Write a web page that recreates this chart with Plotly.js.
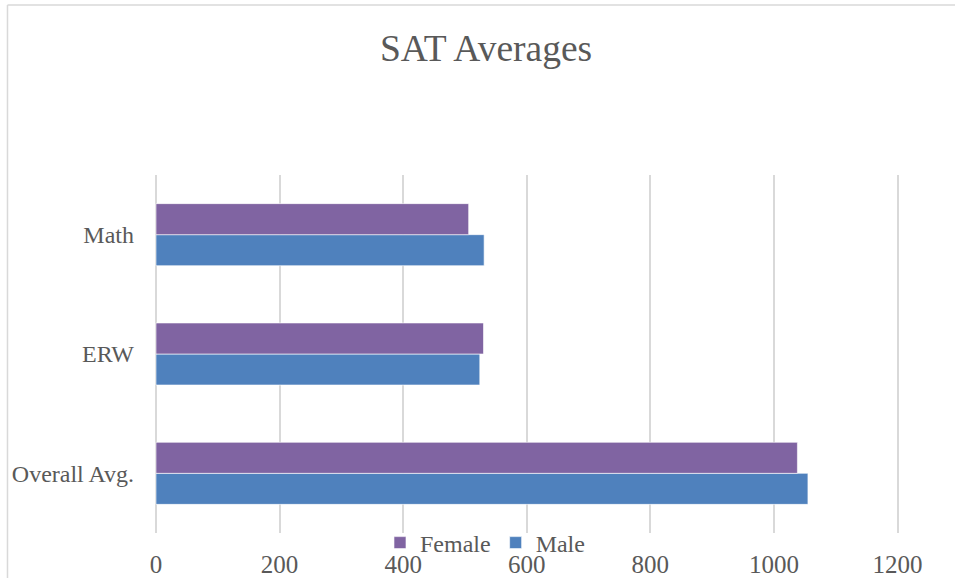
<!DOCTYPE html>
<html>
<head>
<meta charset="utf-8">
<script src="https://cdn.plot.ly/plotly-3.0.1.min.js"></script>
<style>html,body{margin:0;padding:0;background:#fff;}#chart{width:955px;height:578px;}</style>
</head>
<body>
<div id="chart"></div>
<script>
const categories = ['Overall Avg.', 'ERW', 'Math'];
const femaleValues = [1038, 530, 506];
const maleValues = [1055, 524, 531];
const xTicks = [0, 200, 400, 600, 800, 1000, 1200];

const fontFam = '"Liberation Serif", "DejaVu Serif", serif';
const textColor = '#595959';

const traces = [
  {
    type: 'bar', orientation: 'h', name: 'Male',
    y: categories, x: maleValues,
    marker: {color: '#4f81bd', line: {color: 'rgba(255,255,255,0.6)', width: 1}},
    hoverinfo: 'x+name'
  },
  {
    type: 'bar', orientation: 'h', name: 'Female',
    y: categories, x: femaleValues,
    marker: {color: '#8064a2', line: {color: 'rgba(255,255,255,0.6)', width: 1}},
    hoverinfo: 'x+name'
  }
];

const layout = {
  width: 955, height: 578,
  margin: {l: 155, r: 55, t: 175, b: 45, pad: 0},
  paper_bgcolor: '#ffffff', plot_bgcolor: '#ffffff',
  font: {family: fontFam, color: textColor, size: 24},
  title: {
    text: 'SAT Averages', font: {family: fontFam, size: 37.5, color: textColor},
    xref: 'container', x: 0.509, xanchor: 'center',
    yref: 'container', y: 0.917, yanchor: 'middle'
  },
  barmode: 'group', bargap: 0.48, bargroupgap: 0,
  xaxis: {
    range: [-1.6, 1204], tickvals: xTicks, ticktext: xTicks.map(String),
    showgrid: true, gridcolor: '#d9d9d9', gridwidth: 2,
    zeroline: true, zerolinecolor: '#d9d9d9', zerolinewidth: 2,
    showline: false, ticks: '',
    ticklabelstandoff: 14,
    tickfont: {family: fontFam, size: 25, color: textColor},
    fixedrange: true
  },
  yaxis: {
    type: 'category', categoryorder: 'array', categoryarray: categories,
    showgrid: false, zeroline: false, showline: false, ticks: '',
    ticklabelstandoff: 20,
    tickfont: {family: fontFam, size: 24, color: textColor},
    fixedrange: true
  },
  showlegend: true,
  legend: {
    orientation: 'h', traceorder: 'reversed',
    x: 0.302, xanchor: 'left', y: -0.028, yanchor: 'middle',
    font: {family: fontFam, size: 24, color: textColor},
    bgcolor: 'rgba(0,0,0,0)', itemwidth: 30
  },
  shapes: [
    {type: 'line', xref: 'paper', yref: 'paper', x0: -0.198, x1: 1.2, y0: 1.4749, y1: 1.4749, line: {color: '#d9d9d9', width: 1.5}},
    {type: 'line', xref: 'paper', yref: 'paper', x0: -0.198, x1: -0.198, y0: 1.4749, y1: -0.2, line: {color: '#d9d9d9', width: 1.5}}
  ]
};

Plotly.newPlot('chart', traces, layout, {displayModeBar: false, staticPlot: true});
</script>
</body>
</html>
